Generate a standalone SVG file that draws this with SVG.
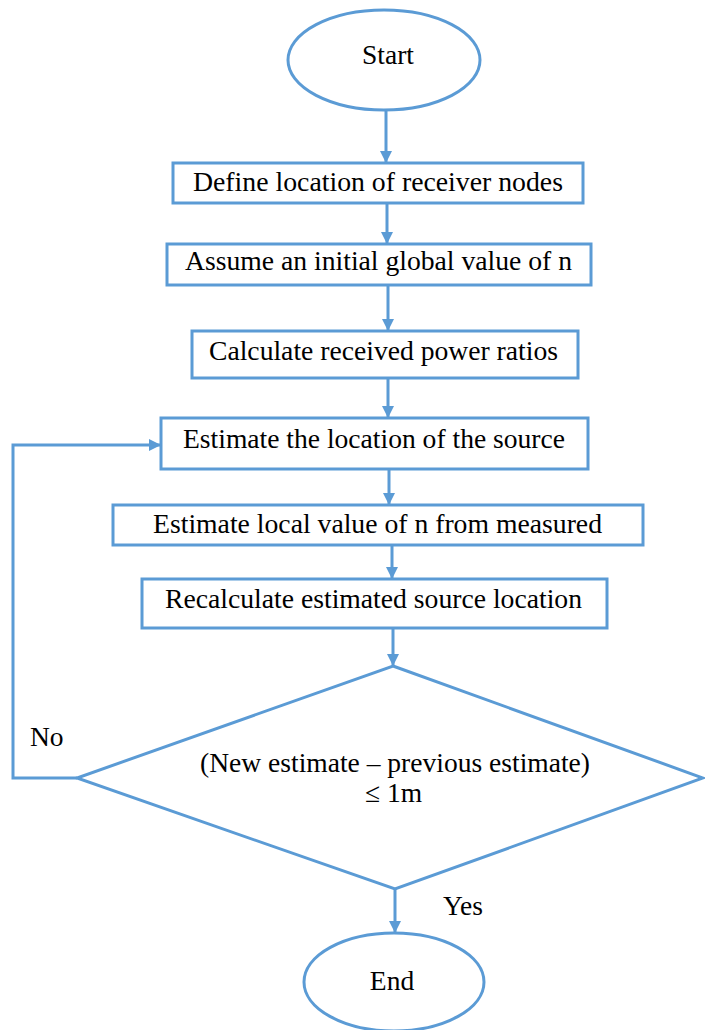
<svg xmlns="http://www.w3.org/2000/svg" width="705" height="1030" viewBox="0 0 705 1030">
<defs>
<marker id="ah" markerUnits="userSpaceOnUse" markerWidth="12" markerHeight="12" refX="11" refY="6" orient="auto">
<path d="M0,0 L12,6 L0,12 Z" fill="#5B9BD5"/>
</marker>
<style>
.s{fill:#fff;stroke:#5B9BD5;stroke-width:3}
.c{fill:none;stroke:#5B9BD5;stroke-width:3;marker-end:url(#ah)}
.t{font-family:"Liberation Serif","Times New Roman",serif;font-size:27.5px;fill:#000;text-anchor:middle}
.l{font-family:"Liberation Serif","Times New Roman",serif;font-size:27.5px;fill:#000}
</style>
</defs>
<rect width="705" height="1030" fill="#fff"/>
<g id="connectors">
<line class="c" x1="386" y1="110" x2="386" y2="162"/>
<line class="c" x1="387" y1="203" x2="387" y2="243"/>
<line class="c" x1="388" y1="285" x2="388" y2="330"/>
<line class="c" x1="388" y1="378" x2="388" y2="417"/>
<line class="c" x1="389" y1="469" x2="389" y2="504"/>
<line class="c" x1="392" y1="545" x2="392" y2="578"/>
<line class="c" x1="393" y1="628" x2="393" y2="665"/>
<line class="c" x1="395" y1="889" x2="395" y2="932"/>
<polyline class="c" points="77,778 13,778 13,445 160,445"/>
<text class="l" x="30" y="746">No</text>
<text class="l" x="443" y="915">Yes</text>
</g>
<g id="start">
<ellipse class="s" cx="384" cy="60" rx="96" ry="50"/>
<text class="t" x="388" y="64">Start</text>
</g>
<g id="n1">
<rect class="s" x="173" y="163" width="410" height="40"/>
<text class="t" x="378" y="191" textLength="370" lengthAdjust="spacingAndGlyphs">Define location of receiver nodes</text>
</g>
<g id="n2">
<rect class="s" x="167" y="244" width="424" height="41"/>
<text class="t" x="378.5" y="270" textLength="387" lengthAdjust="spacingAndGlyphs">Assume an initial global value of n</text>
</g>
<g id="n3">
<rect class="s" x="192" y="331" width="386" height="47"/>
<text class="t" x="383.5" y="360" textLength="349" lengthAdjust="spacingAndGlyphs">Calculate received power ratios</text>
</g>
<g id="n4">
<rect class="s" x="161" y="418" width="427" height="51"/>
<text class="t" x="374" y="448" textLength="382" lengthAdjust="spacingAndGlyphs">Estimate the location of the source</text>
</g>
<g id="n5">
<rect class="s" x="113" y="505" width="530" height="40"/>
<text class="t" x="377.5" y="533" textLength="449" lengthAdjust="spacingAndGlyphs">Estimate local value of n from measured</text>
</g>
<g id="n6">
<rect class="s" x="142" y="579" width="465" height="49"/>
<text class="t" x="373.5" y="608" textLength="417" lengthAdjust="spacingAndGlyphs">Recalculate estimated source location</text>
</g>
<g id="decision">
<polygon class="s" points="393,666 703,778 395,889 77,778"/>
<text class="t" x="395" y="772" textLength="390" lengthAdjust="spacingAndGlyphs">(New estimate – previous estimate)</text>
<text class="t" x="393.5" y="802">≤ 1m</text>
</g>
<g id="end">
<ellipse class="s" cx="394" cy="982" rx="90" ry="49"/>
<text class="t" x="392" y="990">End</text>
</g>
</svg>
